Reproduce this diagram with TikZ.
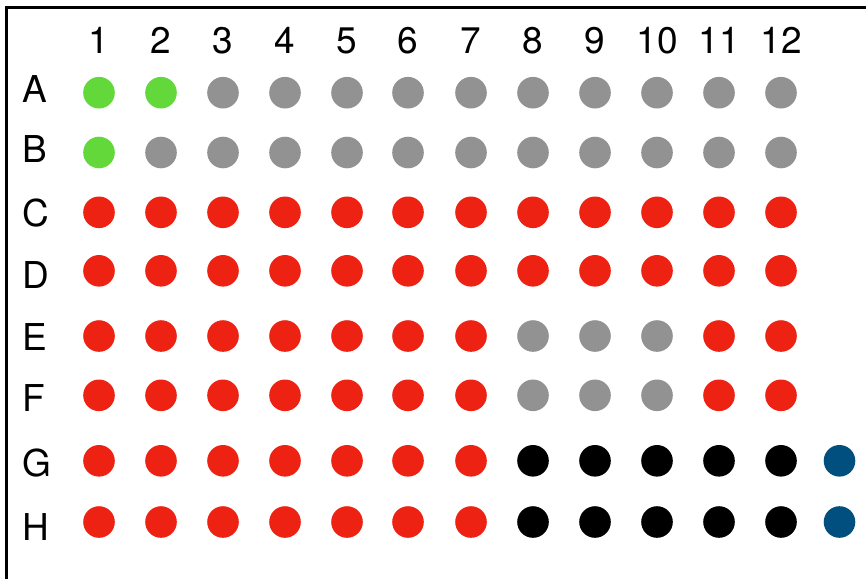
\documentclass[tikz,border=0pt]{standalone}
\usepackage{fontspec}
\setmainfont{TeX Gyre Heros}
\definecolor{wgreen}{HTML}{63D83A}
\definecolor{wgray}{HTML}{929292}
\definecolor{wred}{HTML}{EE2213}
\definecolor{wblue}{HTML}{004F7F}
\begin{document}
\begin{tikzpicture}[x=1pt,y=-1pt,
  well/.style={circle,inner sep=0pt,minimum size=31.6pt,draw=none},
  collab/.style={anchor=base,inner sep=0pt,font=\fontsize{37}{40}\selectfont},
  rowlab/.style={anchor=base west,inner sep=0pt,font=\fontsize{37}{40}\selectfont},
  frame/.style={line width=2.6pt,black}]
\useasboundingbox (0,0) rectangle (866,579);
\fill[white] (0,0) rectangle (866,579);
\coordinate (fb) at (6.5,579);
\coordinate (fc) at (6.5,7.5);
\coordinate (fr) at (866,7.5);
\draw[frame] (fb) -- (fc) -- (fr);
% column labels
\foreach \c/\x in {1/99,2/161,3/223,4/285,5/347,6/408,7/471,8/533,9/595,10/657,11/719,12/781}{
  \node[collab] (col\c) at (\x,53) {\c};
}
% row labels
\foreach \r/\yb in {A/102,B/162.5,C/226,D/288.5,E/350,F/411,G/476,H/540}{
  \node[rowlab] (row\r) at (22.5,\yb) {\r};
}
% wells
\foreach \r/\y/\cols in {
  A/92.7/{wgreen,wgreen,wgray,wgray,wgray,wgray,wgray,wgray,wgray,wgray,wgray,wgray},
  B/152.5/{wgreen,wgray,wgray,wgray,wgray,wgray,wgray,wgray,wgray,wgray,wgray,wgray},
  C/212.3/{wred,wred,wred,wred,wred,wred,wred,wred,wred,wred,wred,wred},
  D/270.8/{wred,wred,wred,wred,wred,wred,wred,wred,wred,wred,wred,wred},
  E/336/{wred,wred,wred,wred,wred,wred,wred,wgray,wgray,wgray,wred,wred},
  F/395.3/{wred,wred,wred,wred,wred,wred,wred,wgray,wgray,wgray,wred,wred},
  G/460.8/{wred,wred,wred,wred,wred,wred,wred,black,black,black,black,black},
  H/522/{wred,wred,wred,wred,wred,wred,wred,black,black,black,black,black}}{
  \foreach \cn [count=\i] in \cols {
    \pgfmathsetmacro{\x}{{99,161,223,285,347,408,471,533,595,657,719,781}[\i-1]}
    \node[well,fill=\cn] (\r\i) at (\x,\y) {};
  }
}
\node[well,fill=wblue] (G13) at (839.5,460.8) {};
\node[well,fill=wblue] (H13) at (839.5,522) {};
\end{tikzpicture}
\end{document}
